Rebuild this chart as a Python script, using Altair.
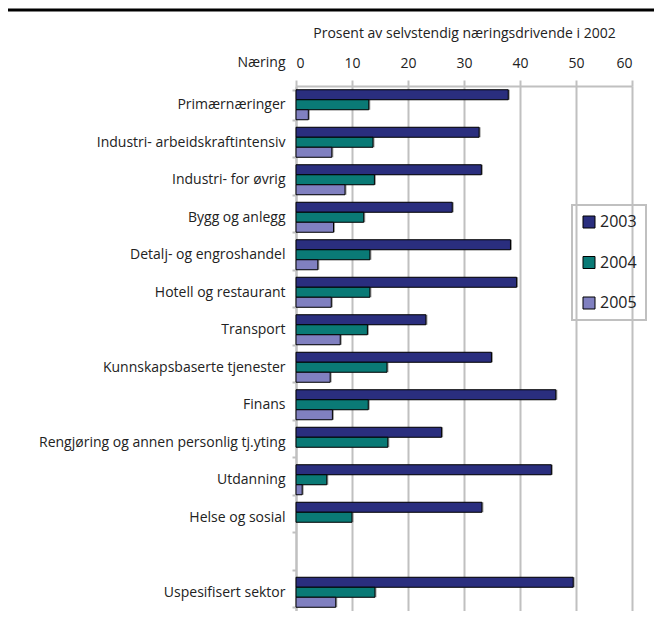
import altair as alt
import pandas as pd

categories = [
    "Primærnæringer",
    "Industri- arbeidskraftintensiv",
    "Industri- for øvrig",
    "Bygg og anlegg",
    "Detalj- og engroshandel",
    "Hotell og restaurant",
    "Transport",
    "Kunnskapsbaserte tjenester",
    "Finans",
    "Rengjøring og annen personlig tj.yting",
    "Utdanning",
    "Helse og sosial",
    " ",
    "Uspesifisert sektor",
]
years = ["2003", "2004", "2005"]
v2003 = [37.9, 32.7, 33.1, 27.9, 38.3, 39.4, 23.2, 34.9, 46.4, 26.0, 45.6, 33.2, None, 49.5]
v2004 = [13.0, 13.75, 14.0, 12.1, 13.2, 13.2, 12.75, 16.25, 12.9, 16.4, 5.5, 10.0, None, 14.1]
v2005 = [2.2, 6.4, 8.75, 6.7, 3.9, 6.3, 7.9, 6.1, 6.5, None, 1.1, None, None, 7.1]
colors = ["#2a2e7e", "#0a7a76", "#8080c0"]

rows = []
for c, a, b, d in zip(categories, v2003, v2004, v2005):
    for y, v in zip(years, [a, b, d]):
        if v is not None:
            rows.append({"Næring": c, "År": y, "Verdi": v})
df = pd.DataFrame(rows)

FONT = "Open Sans"
GRAY = "#c0c0c0"

xenc = alt.X(
    "Verdi:Q",
    scale=alt.Scale(domain=[0, 60], nice=False),
    axis=alt.Axis(
        orient="top",
        values=[0, 10, 20, 30, 40, 50, 60],
        title="Prosent av selvstendig næringsdrivende i 2002",
        titleFont=FONT,
        titleFontSize=14,
        titleFontWeight="normal",
        titleColor="#222",
        titlePadding=16,
        labelFont=FONT,
        labelFontSize=14,
        labelColor="#222",
        labelPadding=10,
        grid=True,
        gridColor=GRAY,
        gridWidth=2,
        domainColor=GRAY,
        domainWidth=2,
        tickColor=GRAY,
        tickWidth=2,
        tickSize=6,
    ),
)
yenc = alt.Y(
    "Næring:N",
    sort=categories,
    scale=alt.Scale(domain=categories, paddingInner=0.2, paddingOuter=0.1),
    axis=alt.Axis(
        title="Næring",
        titleAngle=0,
        titleAlign="right",
        titleBaseline="middle",
        titleX=-11,
        titleY=-24,
        titleFont=FONT,
        titleFontSize=14,
        titleFontWeight="normal",
        titleColor="#222",
        labelFont=FONT,
        labelFontSize=14,
        labelColor="#222",
        labelPadding=7,
        labelLimit=400,
        tickBand="extent",
        tickColor=GRAY,
        tickWidth=2,
        tickSize=4,
        domainColor=GRAY,
        domainWidth=2,
        grid=False,
    ),
)
yoff = alt.YOffset("År:N", scale=alt.Scale(domain=years, paddingInner=0, paddingOuter=0))

shadow = alt.Chart(df).mark_bar(color="#9a9a9a", xOffset=1.5, yOffset=1.5).encode(
    x=xenc, y=yenc, yOffset=yoff
)

bars = alt.Chart(df).mark_bar(stroke="black", strokeWidth=1).encode(
    x=xenc,
    y=yenc,
    yOffset=yoff,
    color=alt.Color(
        "År:N",
        scale=alt.Scale(domain=years, range=colors),
        legend=alt.Legend(
            title=None,
            orient="none",
            legendX=276,
            legendY=119,
            strokeColor=GRAY,
            padding=9,
            symbolType="square",
            symbolSize=144,
            symbolStrokeColor="black",
            symbolStrokeWidth=1,
            labelFont=FONT,
            labelFontSize=16,
            labelColor="#222",
            rowPadding=24.5,
            labelOffset=3,
        ),
    ),
)

topline = alt.Chart(pd.DataFrame({"a": [0]})).mark_rule(color="black", strokeWidth=3).encode(
    x=alt.value(-288), x2=alt.value(358), y=alt.value(-76)
)

chart = alt.layer(shadow, bars, topline).properties(
    width=336,
    height=525,
    autosize=alt.AutoSizeParams(type="none"),
    padding={"left": 288, "top": 78, "right": 22, "bottom": 0},
).configure_view(stroke=None).configure_legend(strokeWidth=2)

chart.save("out.html", embed_options={"renderer": "svg", "actions": False})
